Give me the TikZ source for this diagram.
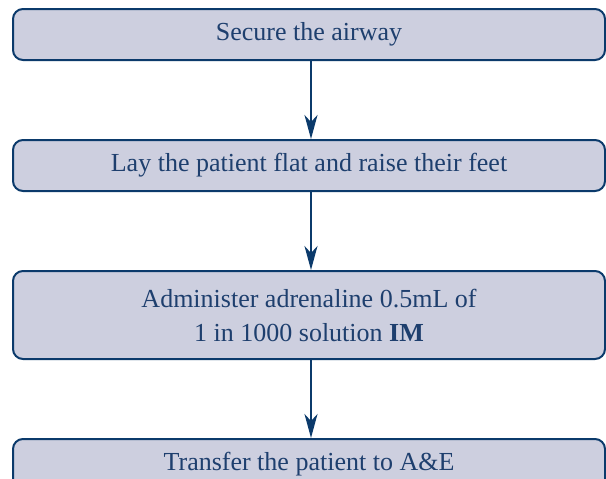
\documentclass[tikz,border=0pt]{standalone}
\usepackage{fontspec}
\setmainfont{Liberation Serif}
\usepackage{tikz}
\usetikzlibrary{arrows.meta}
\usetikzlibrary{positioning}

\definecolor{boxFill}{HTML}{CDCFDF}
\definecolor{boxLine}{HTML}{0B3A6B}
\definecolor{boxText}{HTML}{1E3F6E}

\begin{document}
\begin{tikzpicture}[
  node distance=78pt,
  flowArrow/.style={draw=boxLine, line width=2pt, -{Stealth[length=24pt,width=13pt,inset=7pt]}}
]
	\tikzstyle{actionBox} = [rectangle, rounded corners=10pt, minimum width=592pt, minimum height=51pt, text centered, draw=boxLine, line width=2pt, fill=boxFill, text=boxText, font=\fontsize{26}{34}\selectfont]
	\tikzstyle{doseBox} = [actionBox, minimum height=88pt, align=center]

	\useasboundingbox (0,0) rectangle (606pt,-479pt);

	\node (secureAirway) [actionBox, anchor=north west] at (12pt,-8pt) {Secure the airway};
	\node (layFlat) [actionBox, below=of secureAirway] {Lay the patient flat and raise their feet};
	\node (adrenaline) [doseBox, below=of layFlat] {Administer adrenaline 0.5mL of\\1 in 1000 solution \textbf{IM}};
	\node (transfer) [actionBox, below=of adrenaline] {Transfer the patient to A\&E};

	\draw[flowArrow] ([xshift=2pt]secureAirway.south) -- ([xshift=2pt]layFlat.north);
	\draw[flowArrow] ([xshift=2pt]layFlat.south) -- ([xshift=2pt]adrenaline.north);
	\draw[flowArrow] ([xshift=2pt]adrenaline.south) -- ([xshift=2pt]transfer.north);
\end{tikzpicture}
\end{document}
